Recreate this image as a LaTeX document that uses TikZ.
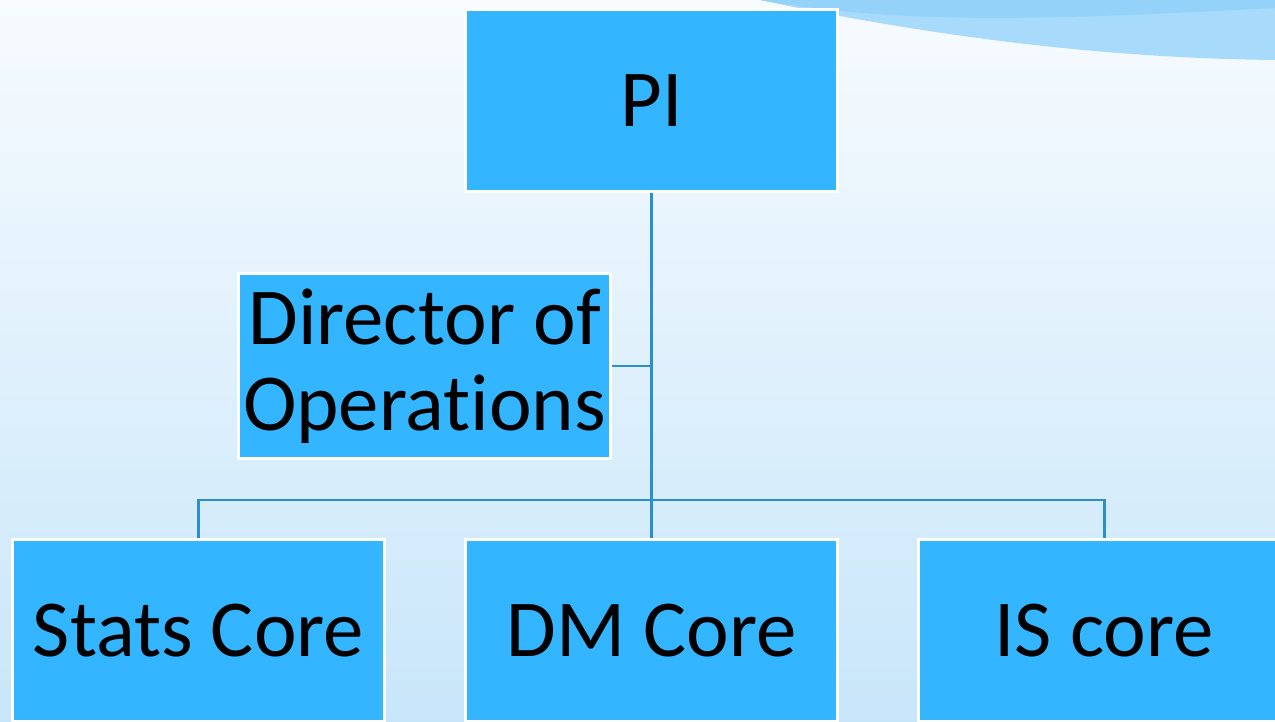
\documentclass[tikz,border=0pt]{standalone}
\usepackage{fontspec}
\setmainfont[Ligatures=NoCommon]{Carlito}
\definecolor{cajaazul}{HTML}{33B5FF}
\definecolor{lineaazul}{HTML}{2A8FD0}
\definecolor{fondoarriba}{HTML}{F7FBFE}
\definecolor{fondoabajo}{HTML}{C8E6FA}
\definecolor{ondaclara}{HTML}{A8DBFB}
\definecolor{ondaoscura}{HTML}{95D2FA}
\tikzset{
  caja/.style={fill=cajaazul, draw=white, line width=1.7pt,
    minimum width=7.44cm, minimum height=3.64cm, inner sep=2pt,
    align=center, font=\fontsize{46}{49}\selectfont},
  conector/.style={draw=lineaazul, line width=1.7pt}
}
\begin{document}
\begin{tikzpicture}[x=0.02cm, y=-0.02cm]
    % Fondo
    \shade[top color=fondoarriba, bottom color=fondoabajo] (0,0) rectangle (1275,722);
    \useasboundingbox (0,0) rectangle (1275,722);
    \fill[ondaclara] (760,0) .. controls (900,30) and (1080,58) .. (1275,60) -- (1275,0) -- cycle;
    \fill[ondaoscura] (760,0) .. controls (900,25) and (1050,20) .. (1275,8) -- (1275,0) -- cycle;
    % Cajas
    \node[caja] (pi) at (651.5,100.5) {PI};
    \node[caja, minimum height=3.7cm] (dir) at (424.5,366) {Director of\\Operations};
    \node[caja] (stats) at (198.5,630.5) {Stats Core};
    \node[caja] (dm) at (651.5,630.5) {DM Core};
    \node[caja] (is) at (1104,630.5) {IS core};
    \coordinate (bus) at (651.5,500);
    % Conectores
    \draw[conector] (pi.south) -- (dm.north);
    \draw[conector] (dir.east) -- (dir.east -| pi.south);
    \draw[conector] (stats.north) |- (bus) -| (is.north);
\end{tikzpicture}
\end{document}
